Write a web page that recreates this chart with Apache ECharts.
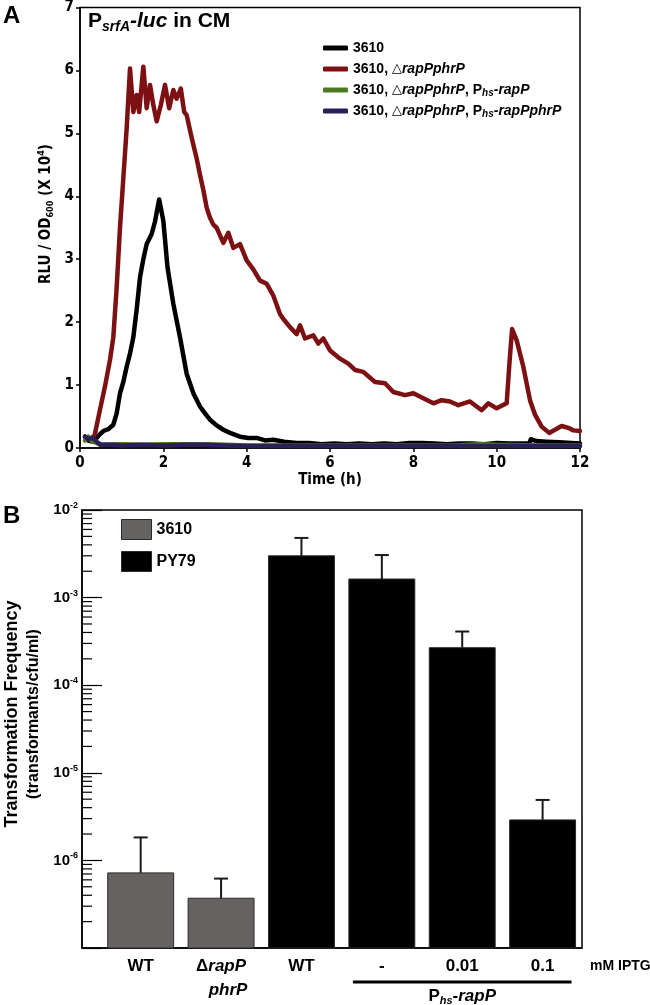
<!DOCTYPE html>
<html><head><meta charset="utf-8">
<script src="https://cdn.jsdelivr.net/npm/echarts@6/dist/echarts.min.js"></script>
<style>html,body{margin:0;padding:0;background:#fff}#c{width:650px;height:1005px}</style>
</head><body><div id="c"></div>
<script>
// ---------- Panel A data (time in h, RLU/OD600 x 10^4) ----------
const aSeriesNames = ['3610', '3610, △rapPphrP', '3610, △rapPphrP, Phs-rapP', '3610, △rapPphrP, Phs-rapPphrP'];
const aColors = ['#000000', '#7d1012', '#4b7a20', '#2b1f58'];
const aXTicks = [0, 2, 4, 6, 8, 10, 12];
const aYTicks = [0, 1, 2, 3, 4, 5, 6, 7];
const wt3610 = [[0.12,0.18],[0.2,0.12],[0.32,0.1],[0.45,0.2],[0.56,0.27],[0.68,0.3],[0.8,0.37],[0.88,0.55],[0.96,0.87],[1.04,1.05],[1.12,1.29],[1.2,1.5],[1.28,1.76],[1.36,2.2],[1.44,2.71],[1.52,3.0],[1.6,3.24],[1.72,3.4],[1.8,3.6],[1.9,3.95],[2.0,3.61],[2.1,2.87],[2.24,2.29],[2.4,1.76],[2.56,1.18],[2.72,0.87],[2.88,0.66],[3.0,0.55],[3.12,0.45],[3.28,0.36],[3.44,0.29],[3.6,0.24],[3.84,0.18],[4.04,0.16],[4.24,0.16],[4.44,0.12],[4.64,0.13],[4.9,0.1],[5.2,0.08],[5.5,0.08],[5.8,0.06],[6.1,0.07],[6.4,0.06],[6.7,0.07],[7.0,0.06],[7.3,0.07],[7.6,0.06],[7.9,0.08],[8.2,0.08],[8.5,0.07],[8.8,0.06],[9.1,0.07],[9.4,0.07],[9.7,0.06],[10.0,0.08],[10.3,0.07],[10.6,0.07],[10.78,0.07],[10.82,0.14],[10.95,0.11],[11.2,0.1],[11.5,0.09],[11.8,0.08],[12.0,0.07]];
const delRapPphrP = [[0.12,0.18],[0.25,0.14],[0.35,0.2],[0.48,0.61],[0.6,0.98],[0.72,1.4],[0.8,1.76],[0.88,2.55],[0.96,3.5],[1.04,4.29],[1.12,5.08],[1.2,6.03],[1.28,5.34],[1.36,5.61],[1.42,5.34],[1.52,6.06],[1.6,5.4],[1.68,5.77],[1.76,5.45],[1.84,5.19],[1.94,5.45],[2.04,5.77],[2.14,5.4],[2.24,5.69],[2.32,5.55],[2.42,5.71],[2.5,5.34],[2.56,5.29],[2.64,5.05],[2.72,4.82],[2.8,4.6],[2.88,4.34],[2.96,4.1],[3.04,3.82],[3.12,3.66],[3.2,3.55],[3.28,3.5],[3.44,3.26],[3.56,3.42],[3.68,3.18],[3.84,3.24],[4.0,2.98],[4.16,2.84],[4.32,2.66],[4.48,2.61],[4.64,2.42],[4.8,2.13],[4.88,2.05],[5.04,1.92],[5.2,1.81],[5.28,1.95],[5.4,1.74],[5.6,1.79],[5.72,1.66],[5.84,1.74],[6.0,1.55],[6.24,1.42],[6.44,1.34],[6.6,1.24],[6.8,1.21],[7.08,1.05],[7.32,1.03],[7.52,0.89],[7.8,0.84],[8.0,0.87],[8.24,0.79],[8.48,0.71],[8.68,0.76],[8.88,0.74],[9.08,0.68],[9.36,0.74],[9.64,0.6],[9.8,0.71],[10.0,0.63],[10.24,0.71],[10.3,1.29],[10.37,1.89],[10.48,1.71],[10.64,1.29],[10.8,0.76],[10.92,0.53],[11.08,0.34],[11.26,0.24],[11.4,0.29],[11.56,0.35],[11.72,0.32],[11.84,0.28],[12.0,0.27]];
const delPhsRapP = [[0.12,0.12],[0.2,0.18],[0.3,0.1],[0.4,0.08],[0.5,0.05],[1.0,0.06],[1.5,0.05],[2.0,0.06],[2.5,0.06],[3.0,0.06],[3.5,0.05],[4.0,0.04],[5.0,0.04],[6.0,0.04],[7.0,0.04],[8.0,0.04],[9.0,0.04],[9.6,0.06],[10.0,0.05],[11.0,0.04],[12.0,0.04]];
const delPhsRapPphrP = [[0.12,0.18],[0.2,0.14],[0.3,0.16],[0.4,0.1],[0.5,0.05],[0.8,0.05],[1.0,0.04],[1.5,0.05],[2.0,0.04],[2.5,0.05],[3.0,0.05],[3.5,0.04],[4.0,0.03],[5.0,0.03],[6.0,0.03],[7.0,0.03],[8.0,0.03],[9.0,0.03],[10.0,0.03],[11.0,0.03],[12.0,0.03]];
const aData = [wt3610, delRapPphrP, delPhsRapP, delPhsRapPphrP];

// ---------- Panel B data (transformation frequency) ----------
const bCategories = ['WT', 'ΔrapP phrP', 'WT', '-', '0.01', '0.1'];
const bStrain = ['3610', '3610', 'PY79', 'PY79', 'PY79', 'PY79'];
const bMeans = [7.2e-7, 3.7e-7, 3.0e-3, 1.63e-3, 2.68e-4, 2.9e-6];
const bErrTop = [1.83e-6, 6.2e-7, 4.8e-3, 3.06e-3, 4.1e-4, 4.9e-6];
const bDecades = [-7, -6, -5, -4, -3];
const bMinorMult = [2, 3, 4, 5, 6, 7, 8, 9];
const bYMin = 1e-7, bYMax = 1e-2;
const bXMin = 0.27, bXMax = 6.49, bBarW = 0.82;

const NARROW = "'Liberation Sans Narrow', 'DejaVu Sans Condensed', 'Liberation Sans', sans-serif";
const SANS = "'Liberation Sans', Arial, Helvetica, sans-serif";
const TRI = "'DejaVu Sans', sans-serif";

const chart = echarts.init(document.getElementById('c'), null, {renderer: 'canvas'});

const legendARich = {
  n: {fontFamily: SANS, fontWeight: 'bold', fontSize: 14, lineHeight: 16, color: '#000'},
  t: {fontFamily: TRI, fontWeight: 'normal', fontSize: 13, lineHeight: 16, color: '#000'},
  i: {fontFamily: SANS, fontWeight: 'bold', fontStyle: 'italic', fontSize: 14, lineHeight: 16, color: '#000'},
  s: {fontFamily: SANS, fontWeight: 'bold', fontStyle: 'italic', fontSize: 10, verticalAlign: 'bottom', color: '#000'}
};
function legendAFmt(name) {
  const m = {};
  m[aSeriesNames[0]] = '{n|3610}';
  m[aSeriesNames[1]] = '{n|3610, }{t|△}{i|rapPphrP}';
  m[aSeriesNames[2]] = '{n|3610, }{t|△}{i|rapPphrP}{n|, P}{s|hs}{i|-rapP}';
  m[aSeriesNames[3]] = '{n|3610, }{t|△}{i|rapPphrP}{n|, P}{s|hs}{i|-rapPphrP}';
  return m[name] || name;
}

const lineSeries = aSeriesNames.map((nm, k) => ({
  type: 'line', name: nm, xAxisIndex: 0, yAxisIndex: 0,
  data: aData[k], showSymbol: false, symbol: 'none', smooth: false,
  color: aColors[k],
  lineStyle: {width: 4.5, color: aColors[k], cap: 'round', join: 'round'},
  z: 2 + k
}));

function barRender(params, api) {
  const x = api.value(0), v = api.value(1);
  const top = api.coord([x, v]);
  const base = api.coord([x, bYMin]);
  const l = api.coord([x - bBarW / 2, v])[0];
  const r = api.coord([x + bBarW / 2, v])[0];
  return {type: 'rect', shape: {x: l, y: top[1], width: r - l, height: base[1] - top[1]},
    style: {fill: api.visual('color'), stroke: '#2a2a2a', lineWidth: 1}};
}
function errRender(params, api) {
  const x = api.value(0), m = api.value(1), e = api.value(2);
  const p0 = api.coord([x, m]);
  const p1 = api.coord([x, e]);
  const st = {stroke: '#1a1a1a', lineWidth: 2};
  return {type: 'group', children: [
    {type: 'line', shape: {x1: p0[0], y1: p0[1], x2: p1[0], y2: p1[1]}, style: st},
    {type: 'line', shape: {x1: p1[0] - 7, y1: p1[1], x2: p1[0] + 7, y2: p1[1]}, style: st}
  ]};
}
function minorRender(params, api) {
  const p = api.coord([bXMin, api.value(1)]);
  return {type: 'line', shape: {x1: p[0], y1: p[1], x2: p[0] + 10, y2: p[1]}, style: {stroke: '#000', lineWidth: 1.2}};
}
const minorData = [];
bDecades.forEach(d => bMinorMult.forEach(m => minorData.push([bXMin, m * Math.pow(10, d)])));

const d3610 = [], dPY79 = [], dErr = [];
bMeans.forEach((v, i) => {
  if (bStrain[i] === '3610') d3610.push([i + 1, v]); else dPY79.push([i + 1, v]);
  dErr.push([i + 1, v, bErrTop[i]]);
});

const catRich = {
  n: {fontFamily: SANS, fontWeight: 'bold', fontSize: 17, lineHeight: 24, color: '#000'},
  i: {fontFamily: SANS, fontWeight: 'bold', fontStyle: 'italic', fontSize: 17, lineHeight: 24, color: '#000'},
  ip: {fontFamily: SANS, fontWeight: 'bold', fontStyle: 'italic', fontSize: 17, lineHeight: 24, color: '#000', padding: [0, 0, 0, 14]}
};
function catFmt(value) {
  const idx = Math.round(value) - 1;
  const s = bCategories[idx];
  if (s === undefined) return '';
  if (idx === 1) return '{n|Δ}{i|rapP}\n{ip|phrP}';
  return '{n|' + s + '}';
}

const option = {
  animation: false,
  backgroundColor: '#ffffff',
  grid: [
    {left: 80, top: 5, width: 500, height: 443, show: true, borderColor: '#000', borderWidth: 1.5, backgroundColor: 'transparent'},
    {left: 82, top: 510, width: 500, height: 438, show: true, borderColor: '#000', borderWidth: 1.5, backgroundColor: 'transparent'}
  ],
  xAxis: [
    {type: 'value', gridIndex: 0, min: aXTicks[0], max: aXTicks[aXTicks.length - 1], interval: 2,
      axisLine: {show: true, lineStyle: {color: '#000', width: 1.5}},
      axisTick: {show: true, length: 4, lineStyle: {color: '#000', width: 1.5}},
      axisLabel: {margin: 8, color: '#000', fontFamily: NARROW, fontWeight: 'bold', fontSize: 15},
      splitLine: {show: false},
      name: 'Time (h)', nameLocation: 'middle', nameGap: 25,
      nameTextStyle: {color: '#000', fontFamily: NARROW, fontWeight: 'bold', fontSize: 15}},
    {type: 'value', gridIndex: 1, min: bXMin, max: bXMax,
      axisLine: {show: true, lineStyle: {color: '#000', width: 1.5}},
      axisTick: {show: false},
      axisLabel: {show: true, customValues: [1, 2, 3, 4, 5, 6], formatter: catFmt, margin: 6, rich: catRich, color: '#000'},
      splitLine: {show: false}}
  ],
  yAxis: [
    {type: 'value', gridIndex: 0, min: aYTicks[0], max: aYTicks[aYTicks.length - 1], interval: 1,
      axisLine: {show: true, lineStyle: {color: '#000', width: 1.5}},
      axisTick: {show: true, length: 4, lineStyle: {color: '#000', width: 1.5}},
      axisLabel: {margin: 6, color: '#000', fontFamily: NARROW, fontWeight: 'bold', fontSize: 15},
      splitLine: {show: false}},
    {type: 'log', logBase: 10, gridIndex: 1, min: bYMin, max: bYMax,
      axisLine: {show: true, lineStyle: {color: '#000', width: 1.5}},
      axisTick: {show: true, inside: true, length: 20, lineStyle: {color: '#000', width: 1.2}},
      axisLabel: {margin: 4, color: '#000',
        formatter: function (v) {
          const e = Math.round(Math.log10(v));
          if (e <= -7) return '';
          return '{b|10}{u|' + e + '}';
        },
        rich: {
          b: {fontFamily: SANS, fontWeight: 'bold', fontSize: 15, lineHeight: 18, color: '#000'},
          u: {fontFamily: SANS, fontWeight: 'bold', fontSize: 9, verticalAlign: 'top', color: '#000'}
        }},
      splitLine: {show: false}, minorTick: {show: false}}
  ],
  legend: [
    {data: aSeriesNames, orient: 'vertical', left: 323, top: 40, padding: 0,
      itemWidth: 25, itemHeight: 5, itemGap: 5, icon: 'roundRect',
      formatter: legendAFmt, textStyle: {rich: legendARich, lineHeight: 16}},
    {data: ['B-3610', 'B-PY79'], orient: 'vertical', left: 121, top: 519, padding: 0,
      itemWidth: 30, itemHeight: 20, itemGap: 11, icon: 'rect',
      formatter: n => n.slice(2),
      itemStyle: {borderColor: '#2a2a2a', borderWidth: 1},
      textStyle: {fontFamily: SANS, fontWeight: 'bold', fontSize: 16, color: '#000'}}
  ],
  series: lineSeries.concat([
    {type: 'custom', name: 'B-3610', xAxisIndex: 1, yAxisIndex: 1, data: d3610, renderItem: barRender,
      itemStyle: {color: '#676262'}, encode: {x: 0, y: 1}, z: 2},
    {type: 'custom', name: 'B-PY79', xAxisIndex: 1, yAxisIndex: 1, data: dPY79, renderItem: barRender,
      itemStyle: {color: '#000000'}, encode: {x: 0, y: 1}, z: 2},
    {type: 'custom', name: 'err', xAxisIndex: 1, yAxisIndex: 1, data: dErr, renderItem: errRender,
      encode: {x: 0, y: [1, 2]}, z: 3},
    {type: 'custom', name: 'minor', xAxisIndex: 1, yAxisIndex: 1, data: minorData, renderItem: minorRender,
      encode: {x: 0, y: 1}, z: 4, silent: true}
  ]),
  graphic: [
    {type: 'text', id: 'lblA', x: 3, y: 4, style: {text: 'A', fontFamily: SANS, fontWeight: 'bold', fontSize: 24, fill: '#000'}},
    {type: 'text', id: 'lblB', x: 3, y: 504, style: {text: 'B', fontFamily: SANS, fontWeight: 'bold', fontSize: 24, fill: '#000'}},
    {type: 'text', id: 'titleA', x: 88, y: 8, style: {
      text: '{p|P}{s|srfA}{l|-luc}{n| in CM}',
      rich: {
        p: {fontFamily: SANS, fontWeight: 'bold', fontSize: 21, lineHeight: 26, fill: '#000'},
        s: {fontFamily: SANS, fontWeight: 'bold', fontStyle: 'italic', fontSize: 14, verticalAlign: 'bottom', fill: '#000'},
        l: {fontFamily: SANS, fontWeight: 'bold', fontStyle: 'italic', fontSize: 21, lineHeight: 26, fill: '#000'},
        n: {fontFamily: SANS, fontWeight: 'bold', fontSize: 21, lineHeight: 26, fill: '#000'}
      }}},
    {type: 'text', id: 'yNameA', x: 46, y: 214, rotation: Math.PI / 2, style: {
      text: '{n|RLU / OD}{s|600}{n| (X 10}{u|4}{n|)}', align: 'center', verticalAlign: 'middle',
      rich: {
        n: {fontFamily: NARROW, fontWeight: 'bold', fontSize: 15, lineHeight: 18, fill: '#000'},
        s: {fontFamily: NARROW, fontWeight: 'bold', fontSize: 9, verticalAlign: 'bottom', fill: '#000'},
        u: {fontFamily: NARROW, fontWeight: 'bold', fontSize: 9, verticalAlign: 'top', fill: '#000'}
      }}},
    {type: 'text', id: 'yNameB', x: 23, y: 714, rotation: Math.PI / 2, style: {
      text: '{a|Transformation Frequency}\n{b|(transformants/cfu/ml)}', align: 'center', verticalAlign: 'middle',
      rich: {
        a: {fontFamily: SANS, fontWeight: 'bold', fontSize: 18, lineHeight: 21, fill: '#000'},
        b: {fontFamily: SANS, fontWeight: 'bold', fontSize: 16, lineHeight: 21, fill: '#000'}
      }}},
    {type: 'text', id: 'iptg', x: 590, y: 966, style: {text: 'mM IPTG', fontFamily: SANS, fontWeight: 'bold', fontSize: 14, fill: '#000', verticalAlign: 'middle'}}
  ]
};
chart.setOption(option);

// bracket under the P_hs-rapP bars, positioned through the x scale of panel B
const bx1 = chart.convertToPixel({xAxisIndex: 1}, 3.64);
const bx2 = chart.convertToPixel({xAxisIndex: 1}, 6.36);
chart.setOption({graphic: [
  {type: 'line', id: 'bracket', shape: {x1: bx1, y1: 982, x2: bx2, y2: 982}, style: {stroke: '#000', lineWidth: 3}},
  {type: 'text', id: 'phs', x: (bx1 + bx2) / 2, y: 996, style: {
    text: '{p|P}{s|hs}{i|-rapP}', align: 'center', verticalAlign: 'middle',
    rich: {
      p: {fontFamily: SANS, fontWeight: 'bold', fontSize: 17, lineHeight: 20, fill: '#000'},
      s: {fontFamily: SANS, fontWeight: 'bold', fontStyle: 'italic', fontSize: 11, verticalAlign: 'bottom', fill: '#000'},
      i: {fontFamily: SANS, fontWeight: 'bold', fontStyle: 'italic', fontSize: 17, lineHeight: 20, fill: '#000'}
    }}}
]});
</script>
</body></html>
